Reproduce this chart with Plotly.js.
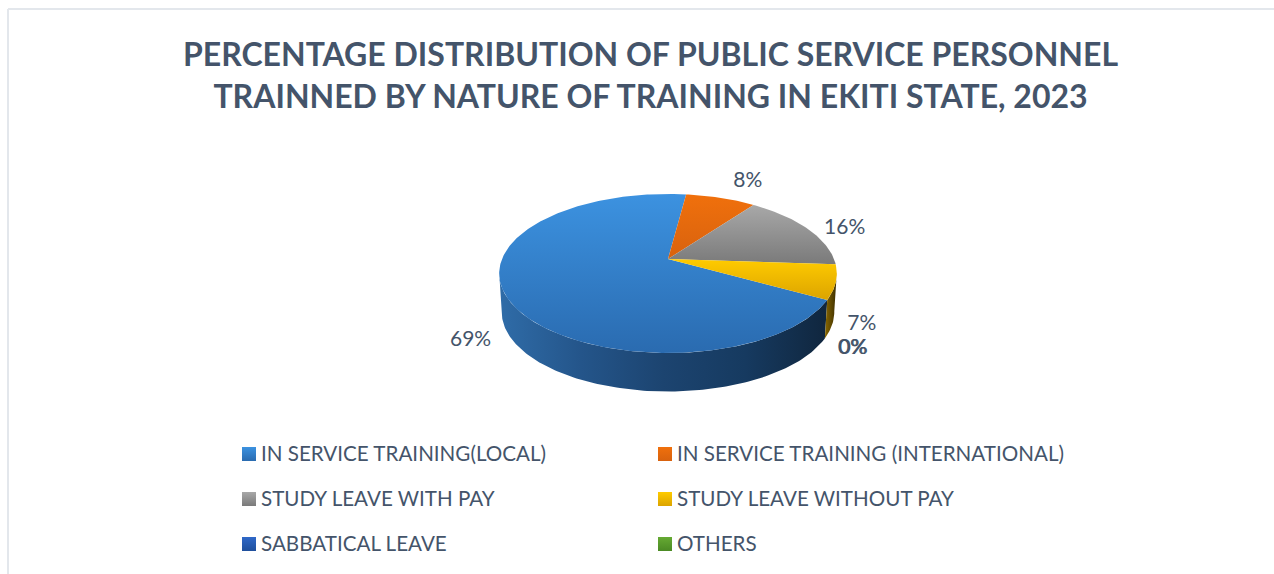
<!DOCTYPE html>
<html>
<head>
<meta charset="utf-8">
<script src="https://cdn.plot.ly/plotly-3.0.1.min.js"></script>
<style>html,body{margin:0;padding:0;background:#fff}#chart{width:1274px;height:574px}</style>
</head>
<body>
<div id="chart"></div>
<script>
var categories = ["IN SERVICE TRAINING(LOCAL)", "IN SERVICE TRAINING (INTERNATIONAL)", "STUDY LEAVE WITH PAY", "STUDY LEAVE WITHOUT PAY", "SABBATICAL LEAVE", "OTHERS"];
var values = [69, 8, 16, 7, 0, 0];
var chartTitle = "PERCENTAGE DISTRIBUTION OF PUBLIC SERVICE PERSONNEL<br>TRAINNED BY NATURE OF TRAINING IN EKITI STATE, 2023";

var ink = "#44546a", font = "Lato, Carlito, sans-serif";
var topColors = [["#3c92e0","#2a6bb0"],["#f0700c","#d8620e"],["#a8a8a8","#7a7a7a"],["#ffcb00","#dca400"],["#2f68c8","#1f4f9c"],["#66aa33","#4b8a24"]];
var wallColors = {0:["#2f6ca8","#24558a","#1c4470","#163a60","#10263e"],3:["#8a6800","#3a2c00"]};
var labelNudge = [[-36,44],[27,-16],[37,0],[26,43],[25,49],[26,49]];
var legendCols = [249,665], legendRows = [454,499,544];

/* projection of the tilted disc: angle in degrees clockwise from 12 o'clock */
var cx=668, cy=259, B=166, A=76.9, k=0.182, depth=38.5, shrink=0.985, firstAngle=119;
function proj(deg, lower){
  var t=deg*Math.PI/180, X=Math.sin(t), Y=-Math.cos(t), s=1/(1-k*Y);
  var x=B*X*s, y=A*Y*s;
  return lower ? [cx+x*shrink, cy+y+depth] : [cx+x, cy+y];
}
function arc(a,b,lower){
  var pts=[], n=Math.max(2,Math.ceil(Math.abs(b-a)));
  for(var i=0;i<=n;i++) pts.push(proj(a+(b-a)*i/n,lower));
  return pts;
}
function scale(cols){return cols.map(function(c,i){return [i/(cols.length-1),c];});}
function poly(pts,grad,type,name){
  return {type:"scatter",mode:"lines",name:name,x:pts.map(function(p){return p[0];}),y:pts.map(function(p){return p[1];}),
    fill:"toself",line:{width:0},fillgradient:{type:type,colorscale:scale(grad)},hoverinfo:"skip",showlegend:false};
}

var total=values.reduce(function(a,b){return a+b;},0), bounds=[], acc=firstAngle;
values.forEach(function(v){var e=acc+v/total*360;bounds.push([acc,e]);acc=e;});

var traces=[];
/* side wall: only the front of the disc is visible */
var frontA=100, frontB=260;
traces.push(poly(arc(firstAngle,frontB,false).concat(arc(frontB,firstAngle,true)),wallColors[0],"horizontal",categories[0]+" side"));
traces.push(poly(arc(frontA,firstAngle,false).concat(arc(firstAngle,frontA,true)),wallColors[3],"horizontal",categories[3]+" side"));
/* top surface (the y axis is reversed, so the gradient runs bottom colour first) */
values.forEach(function(v,i){
  if(v<=0) return;
  var th=bounds[i];
  traces.push(poly([[cx,cy]].concat(arc(th[0],th[1],false)),topColors[i].slice().reverse(),"vertical",categories[i]));
});
/* data labels */
values.forEach(function(v,i){
  var th=bounds[i], p=proj((th[0]+th[1])/2,false);
  traces.push({type:"scatter",mode:"text",x:[p[0]+labelNudge[i][0]],y:[p[1]+labelNudge[i][1]],text:[v+"%"],
    textposition:"middle center",textfont:{family:font,size:21,color:ink},hoverinfo:"skip",showlegend:false});
});
/* legend keys and texts */
categories.forEach(function(c,i){
  var lx=legendCols[i%2], ly=legendRows[Math.floor(i/2)];
  traces.push({type:"scatter",mode:"markers",name:c,x:[lx],y:[ly],
    marker:{symbol:"square",size:14,color:topColors[i][0],gradient:{type:"vertical",color:topColors[i][1]},line:{width:0}},
    hoverinfo:"skip",showlegend:false});
  traces.push({type:"scatter",mode:"text",name:c,x:[lx+12],y:[ly+1.5],text:[c],
    textposition:"middle right",textfont:{family:font,size:20.6,color:ink},cliponaxis:false,
    hoverinfo:"skip",showlegend:false});
});

var layout={
  width:1274,height:574,margin:{l:0,r:0,t:0,b:0},paper_bgcolor:"#fff",plot_bgcolor:"#fff",showlegend:false,
  title:{text:chartTitle,x:650.5/1274,xanchor:"center",xref:"paper",y:1-66/574,yanchor:"middle",yref:"container",
    font:{family:font,size:32,weight:700,color:ink}},
  xaxis:{range:[0,1274],visible:false,fixedrange:true},
  yaxis:{range:[574,0],visible:false,fixedrange:true},
  shapes:[
    {type:"line",xref:"x",yref:"y",x0:8,x1:8,y0:9,y1:574,line:{color:"#e3e7ec",width:2}},
    {type:"line",xref:"x",yref:"y",x0:8,x1:1274,y0:9,y1:9,line:{color:"#e3e7ec",width:2}}
  ]
};
Plotly.newPlot("chart",traces,layout,{displayModeBar:false,responsive:false});
</script>
</body>
</html>
